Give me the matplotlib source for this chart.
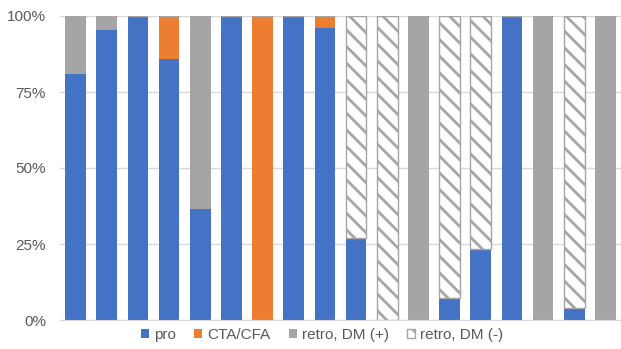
import matplotlib
matplotlib.use("Agg")
import matplotlib.pyplot as plt
import numpy as np

plt.rcParams['font.family'] = ['Liberation Sans', 'DejaVu Sans']
plt.rcParams['hatch.linewidth'] = 2.0

categories = [str(i) for i in range(1, 19)]
pro      = [81, 95.5, 100, 85.8, 36.5, 100, 0, 100, 96.2, 27.1, 0, 0, 7.1, 23.3, 100, 0, 3.8, 0]
cta      = [0, 0, 0, 14.2, 0, 0, 100, 0, 3.8, 0, 0, 0, 0, 0, 0, 0, 0, 0]
retro_p  = [19, 4.5, 0, 0, 63.5, 0, 0, 0, 0, 0, 0, 100, 0, 0, 0, 100, 0, 100]
retro_m  = [0, 0, 0, 0, 0, 0, 0, 0, 0, 72.9, 100, 0, 92.9, 76.7, 0, 0, 96.2, 0]
yticks = [0, 25, 50, 75, 100]
ytick_labels = ['0%', '25%', '50%', '75%', '100%']

fig = plt.figure(figsize=(6.21, 3.49), dpi=100)
ax = fig.add_axes([60/621, 29/349, 561/621, 304/349])

x = np.arange(len(categories))
w = 0.66
b = np.zeros(len(categories))
ax.bar(x, pro, w, bottom=b, color='#4472C4', label='pro', zorder=3)
b += pro
ax.bar(x, cta, w, bottom=b, color='#ED7D31', label='CTA/CFA', zorder=3)
b += cta
ax.bar(x, retro_p, w, bottom=b, color='#A5A5A5', label='retro, DM (+)', zorder=3)
b += retro_p
ax.bar(x, retro_m, w, bottom=b, color='white', edgecolor='#A5A5A5', hatch='\\\\',
       linewidth=1.0, label='retro, DM (-)', zorder=3)

ax.set_xlim(-0.5, len(categories) - 0.5)
ax.set_ylim(0, 100)
ax.set_yticks(yticks)
ax.set_yticklabels(ytick_labels, fontsize=11, color='#595959')
ax.set_xticks([])
ax.yaxis.grid(True, color='#D9D9D9', linewidth=1.0, zorder=0)
ax.tick_params(axis='y', length=0, pad=10)
for s in ['top', 'right', 'left']:
    ax.spines[s].set_visible(False)
ax.spines['bottom'].set_color('#D9D9D9')
ax.spines['bottom'].set_zorder(4)

fig.legend(loc='center', bbox_to_anchor=(0.519, 0.04), ncol=4, frameon=False,
           fontsize=11, handlelength=0.5, handleheight=0.5, handletextpad=0.35,
           columnspacing=1.2, labelcolor='#595959', borderpad=0.2)

fig.savefig('out.png', dpi=100)
